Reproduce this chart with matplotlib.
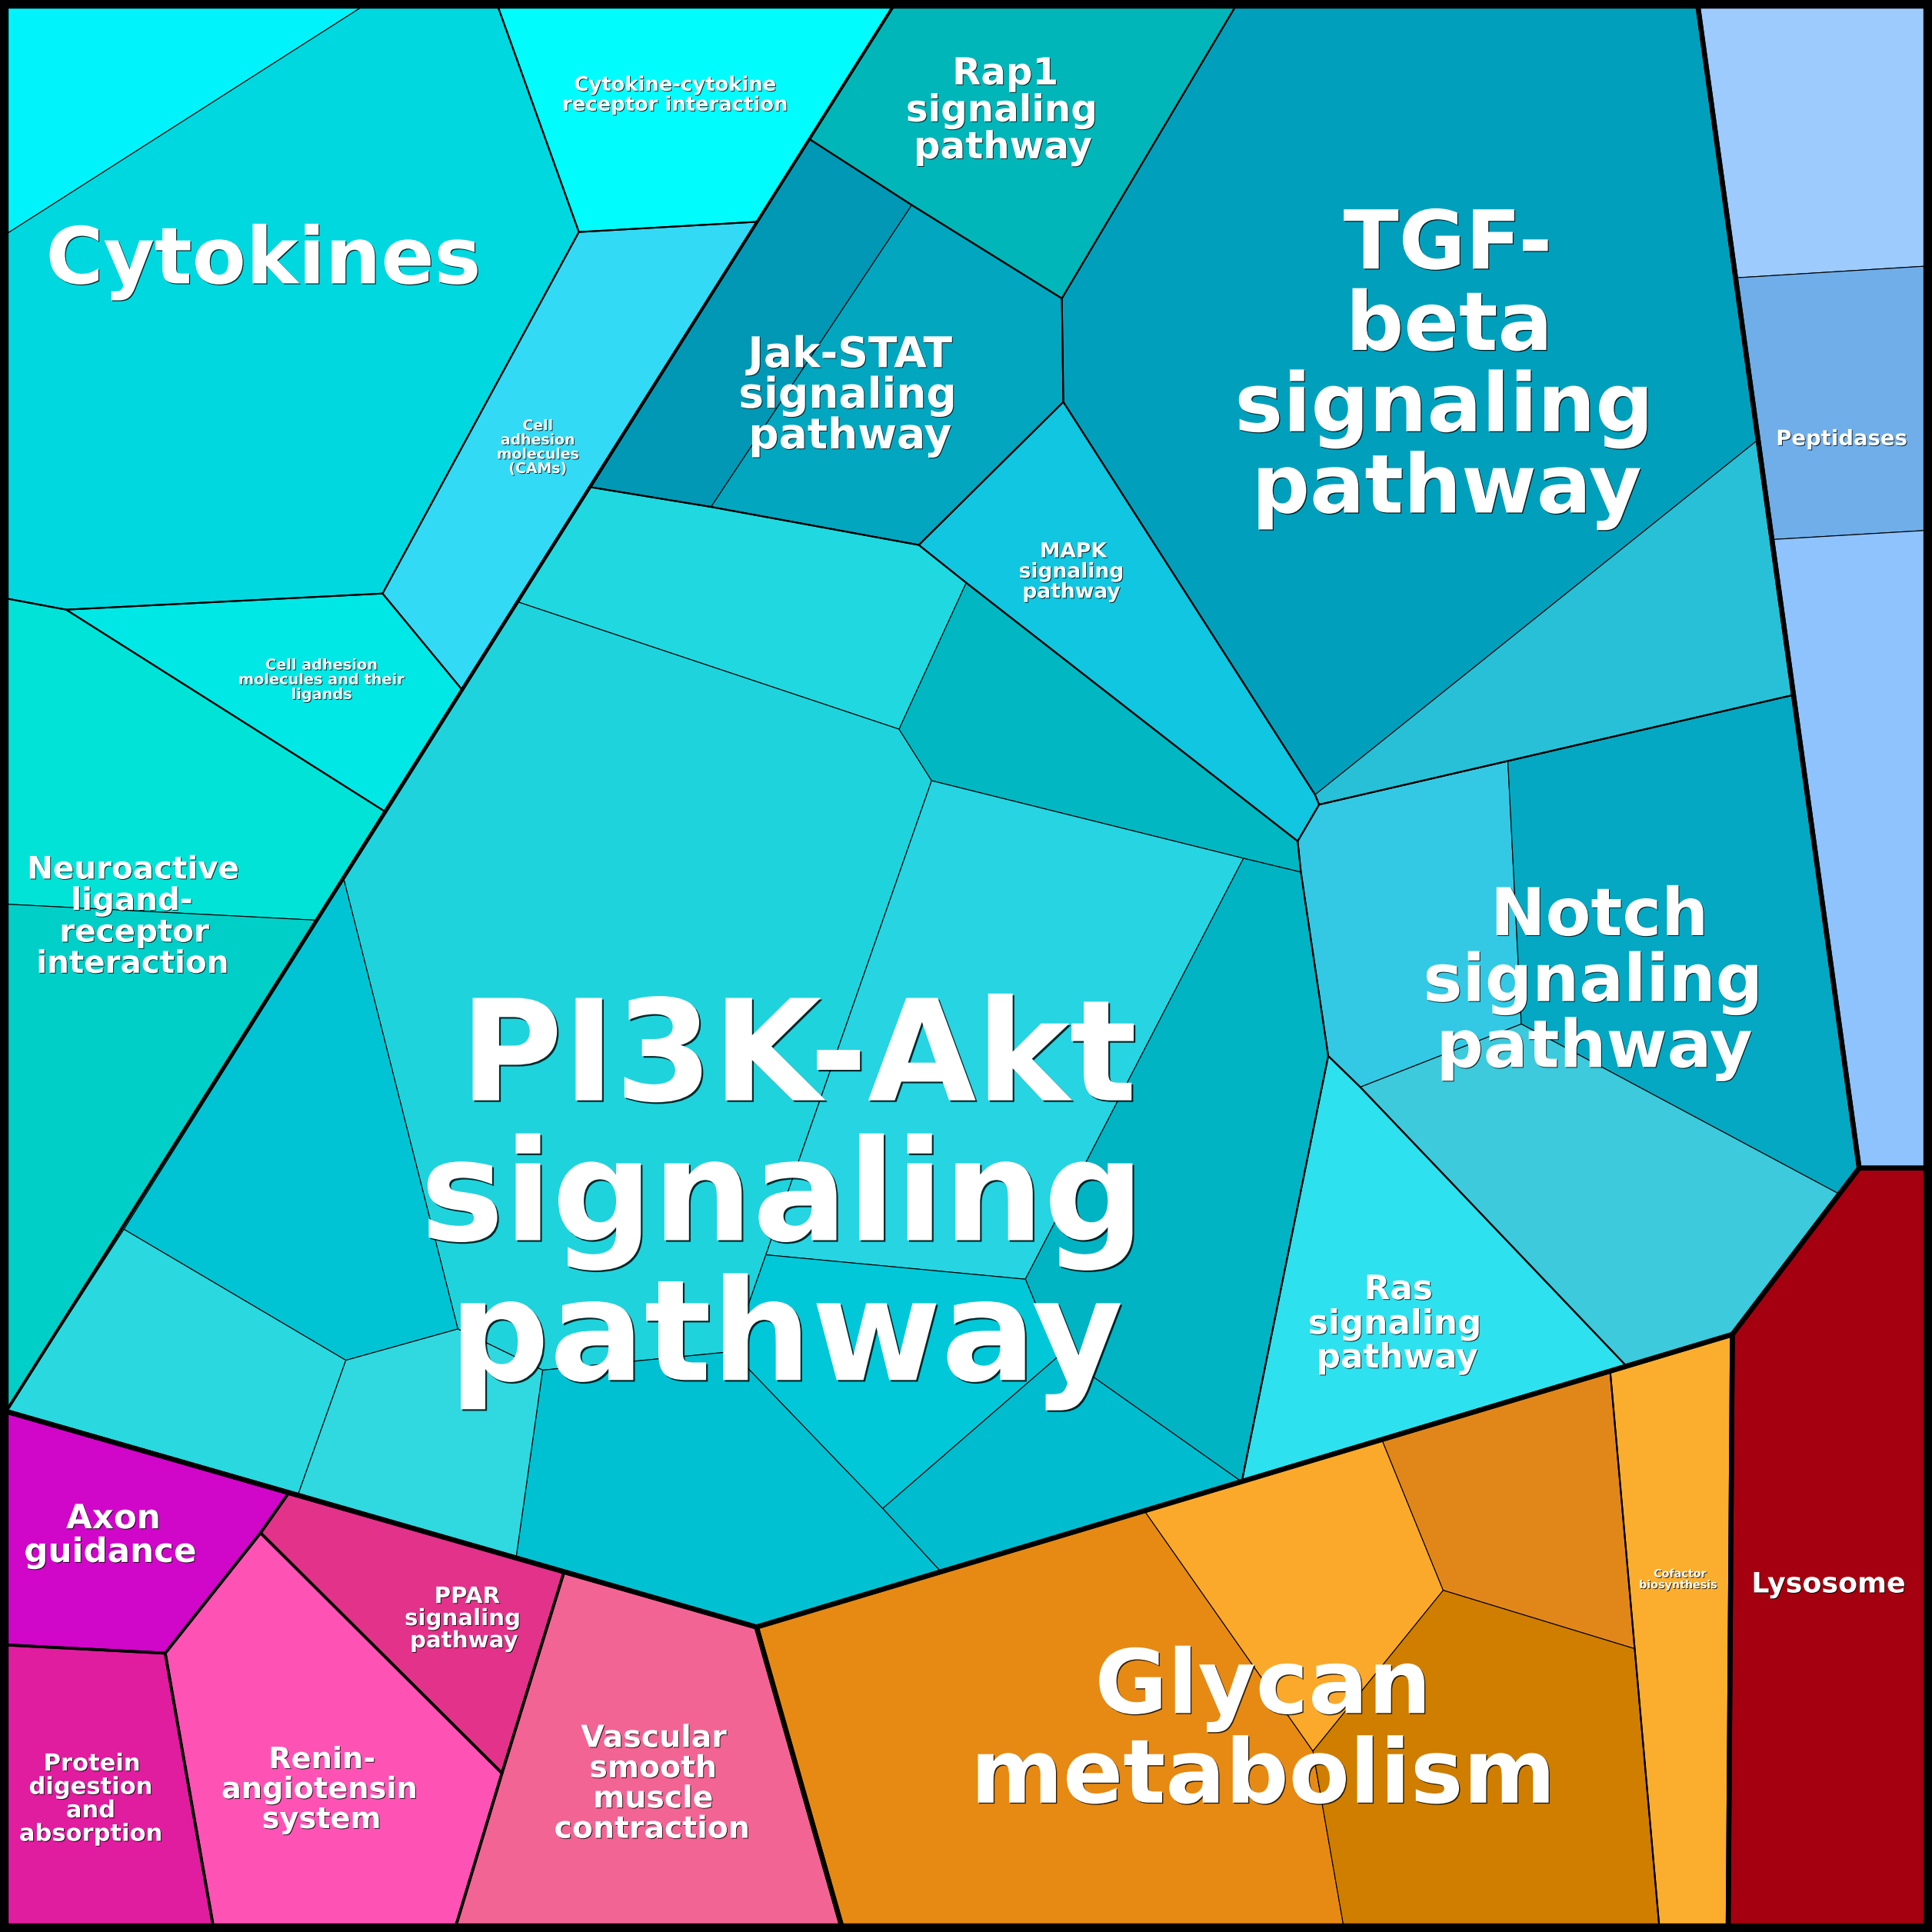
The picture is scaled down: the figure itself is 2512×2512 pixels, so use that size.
import matplotlib
matplotlib.use("Agg")
import matplotlib.pyplot as plt
from matplotlib.patches import Polygon
import matplotlib.patheffects as pe

# ---------------- layout: vertices of the Voronoi treemap (1568-px canvas) ----
nodes = {
    'TL': (5, 5), 'TR': (1563, 5), 'BR': (1563, 1563), 'BL': (5, 1563),
    'c1': (294.6, 5), 'c2': (5, 190), 'c3': (404, 5), 'c4': (469.8, 188.3),
    'c5': (614.9, 180), 'c6': (310.5, 481.7), 'c7': (53.7, 494.8), 'c8': (5, 485.7),
    'c9': (375.6, 560.5), 'c10': (313.5, 659.3), 'c11': (5, 733.8), 'c12': (258.4, 746.9),
    'D0': (725, 5), 'P0': (5, 1145.5),
    's1': (657.1, 113), 's2': (740, 166.4), 's3': (1002.8, 5), 's4': (861.8, 242.2),
    's5': (863, 326.2), 's6': (745.7, 442.3), 's7': (577.1, 411.4), 's8': (479.5, 395.4),
    's9': (1378, 5), 's10': (1426.8, 356.9), 's11': (1067.3, 645), 's12': (1070.6, 653),
    's13': (1053.2, 682.7), 's14': (1455.6, 564), 's15': (784.2, 473), 's16': (420.8, 488.7),
    's17': (729.7, 591.8), 's18': (756.1, 633.6), 's19': (1009.2, 696.6), 's20': (1055.8, 707.8),
    's21': (1078, 857), 's22': (1104, 882.3), 's23': (1223.8, 617.9), 's24': (1234.7, 831.1),
    's25': (1492.8, 969.1), 's26': (1508.9, 948), 's27': (1406, 1083), 's28': (1320, 1108.7),
    's29': (1007.8, 1202.6), 's30': (279.1, 713.9), 's31': (371.6, 1078.6), 's32': (280.7, 1104),
    's33': (100.6, 997.7), 's34': (241.7, 1213.6), 's35': (440.4, 1112), 's36': (418.8, 1264.5),
    's37': (621.6, 1018.4), 's38': (594, 1097), 's39': (832.2, 1038.2), 's40': (858.3, 1101.3),
    's41': (888, 1118), 's42': (716.4, 1224.3), 's43': (763.6, 1275.6), 's44': (614, 1320.5),
    'p1': (1408.6, 225.5), 'p1r': (1563, 216), 'p2': (1438.1, 437.9), 'p2r': (1563, 430.5),
    'L948': (1563, 948),
    'g1': (928.8, 1226.1), 'g2': (1121.5, 1168.3), 'g3': (1306.8, 1112.7), 'g4': (1171.3, 1290.7),
    'g5': (1326.7, 1338.1), 'g6': (1065.6, 1421.2), 'g7': (1090.4, 1563), 'g8': (1346.6, 1563),
    'g9': (1402.6, 1563), 'g10': (683, 1563),
    'k1': (234.4, 1211.5), 'k2': (457.8, 1275.7), 'k3': (211.5, 1244.1), 'k4': (134.1, 1341.7),
    'k5': (5, 1335), 'k6': (173, 1563), 'k7': (407.4, 1439.1), 'k8': (370, 1563),
}

# ---------------- data: cells (pathway, colour) ---------------------------------
cell_pathways = [
    "Cytokines", "Cytokines", "Cytokine-cytokine receptor interaction",
    "Cell adhesion molecules (CAMs)", "Cell adhesion molecules and their ligands",
    "Neuroactive ligand-receptor interaction", "Neuroactive ligand-receptor interaction",
    "Rap1 signaling pathway", "Jak-STAT signaling pathway", "Jak-STAT signaling pathway",
    "TGF-beta signaling pathway", "TGF-beta signaling pathway", "MAPK signaling pathway",
    "PI3K-Akt signaling pathway", "PI3K-Akt signaling pathway", "PI3K-Akt signaling pathway",
    "PI3K-Akt signaling pathway", "PI3K-Akt signaling pathway", "PI3K-Akt signaling pathway",
    "PI3K-Akt signaling pathway", "PI3K-Akt signaling pathway", "PI3K-Akt signaling pathway",
    "PI3K-Akt signaling pathway", "PI3K-Akt signaling pathway",
    "Notch signaling pathway", "Notch signaling pathway", "Notch signaling pathway",
    "Ras signaling pathway", "Peptidases", "Peptidases", "Peptidases", "Lysosome",
    "Glycan metabolism", "Glycan metabolism", "Glycan metabolism", "Glycan metabolism",
    "Cofactor biosynthesis", "Axon guidance", "Protein digestion and absorption",
    "Renin-angiotensin system", "PPAR signaling pathway", "Vascular smooth muscle contraction",
]
cell_colors = [
    "#00F3FA", "#00D8E0", "#00FCFC", "#32DAF5", "#00E8E6", "#02E3D8", "#00CFC8",
    "#00B6B8", "#0098B4", "#02A6BF", "#00A0BC", "#28C0D6", "#10C6E0",
    "#20D8DF", "#1FD3DC", "#00B7C2", "#26D4E2", "#00B4C4", "#00C8D8", "#00BCCF",
    "#00C1D1", "#00C4D4", "#2AD8DF", "#30D8E0",
    "#33C9E4", "#04A8C2", "#3CCADC", "#2DE1EE",
    "#9DCBFD", "#6FAEE9", "#8FC3FE", "#A5000F",
    "#E68A14", "#FBA92A", "#E1871A", "#CF7E00", "#FBAE2D",
    "#D006C8", "#E01C9F", "#FF52B5", "#E23289", "#F26494",
]
cell_shapes = [
    ["TL", "c1", "c2"], ["c1", "c3", "c4", "c6", "c7", "c8", "c2"], ["c3", "D0", "c5", "c4"],
    ["c4", "c5", "c9", "c6"], ["c6", "c9", "c10", "c7"],
    ["c8", "c7", "c10", "s30", "c12", "c11"], ["c11", "c12", "s33", "P0"],
    ["D0", "s3", "s4", "s2", "s1"], ["s1", "s2", "s7", "s8"], ["s2", "s4", "s5", "s6", "s7"],
    ["s3", "s9", "p1", "s10", "s11", "s5", "s4"], ["s10", "p2", "s14", "s12", "s11"],
    ["s6", "s5", "s11", "s12", "s13", "s15"],
    ["s8", "s7", "s6", "s15", "s17", "s16"],
    ["s16", "s17", "s18", "s37", "s38", "s35", "s31", "s30", "c10", "c9"],
    ["s15", "s13", "s20", "s19", "s18", "s17"], ["s18", "s19", "s39", "s37"],
    ["s19", "s20", "s21", "s29", "s41", "s40", "s39"], ["s37", "s39", "s40", "s42", "s38"],
    ["s40", "s41", "s29", "s43", "s42"], ["s35", "s38", "s42", "s43", "s44", "s36"],
    ["s30", "s31", "s32", "s33", "c12"], ["s33", "s32", "s34", "P0"],
    ["s32", "s31", "s35", "s36", "s34"],
    ["s13", "s12", "s23", "s24", "s22", "s21", "s20"], ["s23", "s14", "s26", "s25", "s24"],
    ["s22", "s24", "s25", "s27", "s28"], ["s21", "s22", "s28", "s29"],
    ["s9", "TR", "p1r", "p1"], ["p1", "p1r", "p2r", "p2"], ["p2", "p2r", "L948", "s26"],
    ["s26", "L948", "BR", "g9", "s27"],
    ["s44", "g1", "g6", "g7", "g10"], ["g1", "g2", "g4", "g6"], ["g2", "g3", "g5", "g4"],
    ["g4", "g5", "g8", "g7", "g6"], ["g3", "s27", "g9", "g8", "g5"],
    ["P0", "k1", "k3", "k4", "k5"], ["k5", "k4", "k6", "BL"], ["k4", "k3", "k7", "k8", "k6"],
    ["k3", "k1", "s34", "s36", "k2", "k7"], ["k2", "s44", "g10", "k8", "k7"],
]

# outlines of the hierarchy levels
pathway_outlines = [
    ["TL", "c3", "c4", "c6", "c7", "c8"], ["c3", "D0", "c5", "c4"], ["c4", "c5", "c9", "c6"],
    ["c6", "c9", "c10", "c7"], ["c8", "c7", "c10", "P0"],
    ["D0", "s3", "s4", "s2", "s1"], ["s1", "s2", "s4", "s5", "s6", "s7", "s8"],
    ["s3", "s9", "s14", "s12", "s11", "s5", "s4"], ["s6", "s5", "s11", "s12", "s13", "s15"],
    ["s8", "s7", "s6", "s15", "s13", "s20", "s21", "s29", "s44", "P0"],
    ["s12", "s14", "s26", "s27", "s28", "s22", "s21", "s20", "s13"],
    ["s21", "s22", "s28", "s29"],
    ["s44", "g3", "g8", "g10"], ["g3", "s27", "g9", "g8"],
]
group_outlines = [
    ["TL", "D0", "P0"], ["D0", "s9", "s26", "s27", "s44", "P0"],
    ["P0", "k1", "k3", "k4", "k5"], ["k5", "k4", "k6", "BL"], ["k4", "k3", "k7", "k8", "k6"],
    ["k3", "k1", "k2", "k7"], ["k2", "s44", "g10", "k8", "k7"],
]
top_outlines = [
    ["TL", "s9", "s26", "s27", "s44", "P0"], ["s9", "TR", "L948", "s26"],
    ["s26", "L948", "BR", "g9", "s27"], ["s44", "s27", "g9", "g10"], ["P0", "s44", "g10", "BL"],
]

# labels: text lines, x centres, baselines, font size (pt)
label_lines = [
    ["Cytokines"],
    ["Cytokine-cytokine", "receptor interaction"],
    ["Cell", "adhesion", "molecules", "(CAMs)"],
    ["Cell adhesion", "molecules and their", "ligands"],
    ["Neuroactive", "ligand-", "receptor", "interaction"],
    ["Rap1", "signaling", "pathway"],
    ["Jak-STAT", "signaling", "pathway"],
    ["TGF-", "beta", "signaling", "pathway"],
    ["MAPK", "signaling", "pathway"],
    ["PI3K-Akt", "signaling", "pathway"],
    ["Notch", "signaling", "pathway"],
    ["Ras", "signaling", "pathway"],
    ["Peptidases"],
    ["Lysosome"],
    ["Cofactor", "biosynthesis"],
    ["Glycan", "metabolism"],
    ["Axon", "guidance"],
    ["Protein", "digestion", "and", "absorption"],
    ["Renin-", "angiotensin", "system"],
    ["PPAR", "signaling", "pathway"],
    ["Vascular", "smooth", "muscle", "contraction"],
]
label_x = [
    [214], [548, 548], [436.5] * 4, [261] * 3, [108, 107, 109, 107.5],
    [816, 813, 814], [690, 688, 690], [1175, 1176, 1172, 1174], [871, 869.5, 869.5],
    [648, 635, 638], [1298, 1293, 1294], [1135, 1132, 1134], [1494.5], [1484],
    [1363.5, 1362], [1025, 1025], [92, 89.5], [74.5, 73.5, 73.5, 73.5],
    [261.5, 259.5, 261], [379, 375.5, 376.5], [530.5, 530, 530, 529],
]
label_base = [
    [230], [73.6, 89.8], [349.1, 360.7, 372.3, 383.9], [543.4, 555.3, 567.3],
    [713.1, 738.5, 764.3, 789.5], [68.5, 98.5, 128.5], [298, 331, 364],
    [218, 284, 350, 416], [452.3, 468.8, 485.2], [893, 1006.5, 1120],
    [759, 812.5, 866], [1054.4, 1082.5, 1110], [361.3], [1292.4], [1280, 1289],
    [1390.3, 1463], [1240.4, 1267.7], [1437, 1456, 1475, 1494],
    [1435.1, 1459.4, 1483.7], [1301, 1319, 1337], [1417.8, 1442.4, 1467, 1491.6],
]
label_size = [73.5, 18.6, 13.6, 13.9, 29.1, 34.8, 39.6, 76.1, 19.1, 131.5, 61.7, 31.5,
              19.8, 26.2, 10.3, 83, 31.4, 22.0, 27.6, 21.1, 28.4]

# ---------------- drawing --------------------------------------------------------
S = 1568
fig = plt.figure(figsize=(25.12, 25.12), dpi=100, facecolor="black")
ax = fig.add_axes([0, 0, 1, 1])
ax.set_xlim(0, S)
ax.set_ylim(S, 0)
ax.set_facecolor("black")
ax.axis("off")


def pts(names):
    return [nodes[n] for n in names]


for shape, col in zip(cell_shapes, cell_colors):
    ax.add_patch(Polygon(pts(shape), closed=True, facecolor=col, edgecolor="black",
                         linewidth=0.8, joinstyle="round"))

for outlines, lw in ((pathway_outlines, 1.5), (group_outlines, 2.6), (top_outlines, 4.6)):
    for shape in outlines:
        ax.add_patch(Polygon(pts(shape), closed=True, facecolor="none", edgecolor="black",
                             linewidth=lw, joinstyle="round"))

for lines, xs, ys, fs in zip(label_lines, label_x, label_base, label_size):
    off = max(0.7, fs * 0.012)
    for txt, x, y in zip(lines, xs, ys):
        ax.text(x, y, txt, ha="center", va="baseline", color="white",
                fontsize=fs, fontweight="bold", family="DejaVu Sans",
                path_effects=[pe.withSimplePatchShadow(offset=(off, -off),
                                                       shadow_rgbFace="black", alpha=0.8)])

fig.savefig("out.png", dpi=100, facecolor="black")
